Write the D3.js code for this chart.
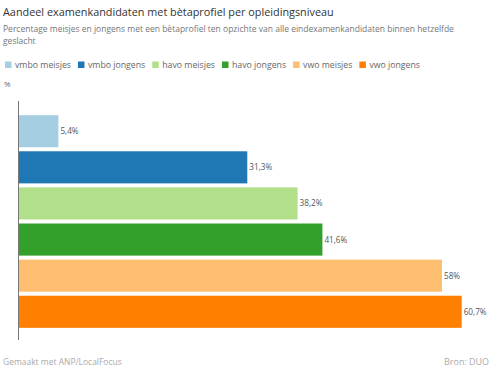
<!DOCTYPE html>
<html><head><meta charset="utf-8">
<script src="https://cdn.jsdelivr.net/npm/d3@7"></script>
<style>body{margin:0;background:#fff;}svg{display:block;font-family:"Open Sans",sans-serif;}</style>
</head><body>
<svg id="c" width="500" height="373"></svg>
<script>
const categories = ["vmbo meisjes","vmbo jongens","havo meisjes","havo jongens","vwo meisjes","vwo jongens"];
const values = [5.4, 31.3, 38.2, 41.6, 58, 60.7];
const labels = ["5,4%","31,3%","38,2%","41,6%","58%","60,7%"];
const colors = ["#a6cee3","#1f78b4","#b2df8a","#33a02c","#fdbf6f","#ff7f00"];

const svg = d3.select("#c");
function fit(sel, w){
  const fs = +sel.attr("font-size");
  const len = sel.node().getComputedTextLength();
  sel.attr("font-size", fs * w / len);
  return sel;
}
fit(svg.append("text").attr("x",3).attr("y",16).attr("font-size",13).attr("fill","#333")
  .text("Aandeel examenkandidaten met bètaprofiel per opleidingsniveau"), 331);
const sub1 = svg.append("text").attr("x",3).attr("y",31.5).attr("font-size",9.6).attr("fill","#777")
  .text("Percentage meisjes en jongens met een bètaprofiel ten opzichte van alle eindexamenkandidaten binnen hetzelfde");
fit(sub1, 451);
svg.append("text").attr("x",3).attr("y",44).attr("font-size",sub1.attr("font-size")).attr("fill","#777").text("geslacht");

// legend
const probe = fit(svg.append("text").attr("font-size",9.6).text("vmbo meisjes"), 56);
const lfs = probe.attr("font-size"); probe.remove();
let lx = 5;
categories.forEach((c,i)=>{
  svg.append("rect").attr("x",lx).attr("y",61.5).attr("width",6.5).attr("height",6.5).attr("fill",colors[i]);
  const t = svg.append("text").attr("x",lx+10).attr("y",68).attr("font-size",lfs).attr("fill","#666").text(c);
  lx += 10 + t.node().getComputedTextLength() + 7;
});

svg.append("text").attr("x",4).attr("y",87).attr("font-size",8).attr("fill","#666").text("%");

const x = d3.scaleLinear().domain([0, 60.7]).range([19, 461.7]);
const y = d3.scaleBand().domain(categories).range([113, 330]).paddingInner(4/36).paddingOuter(0.06);

svg.selectAll("rect.bar").data(values).join("rect").attr("class","bar")
  .attr("x",x(0)).attr("y",(d,i)=>y(categories[i]))
  .attr("width",d=>x(d)-x(0)).attr("height",y.bandwidth())
  .attr("fill",(d,i)=>colors[i]);

const lbl = svg.selectAll("text.lbl").data(values).join("text").attr("class","lbl")
  .attr("x",d=>x(d)+2).attr("y",(d,i)=>y(categories[i])+y.bandwidth()/2+3)
  .attr("font-size",8.5).attr("fill","#555").text((d,i)=>labels[i]);
fit(d3.select(lbl.nodes()[5]), 23);
lbl.attr("font-size", d3.select(lbl.nodes()[5]).attr("font-size"));

svg.append("line").attr("x1",18.5).attr("x2",18.5).attr("y1",101).attr("y2",340)
  .attr("stroke","#777").attr("stroke-width",1);

fit(svg.append("text").attr("x",3).attr("y",365).attr("font-size",9).attr("fill","#aaa").text("Gemaakt met ANP/LocalFocus"), 119);
fit(svg.append("text").attr("x",489).attr("y",365).attr("font-size",9).attr("fill","#aaa").attr("text-anchor","end").text("Bron: DUO"), 45);
</script>
</body></html>
